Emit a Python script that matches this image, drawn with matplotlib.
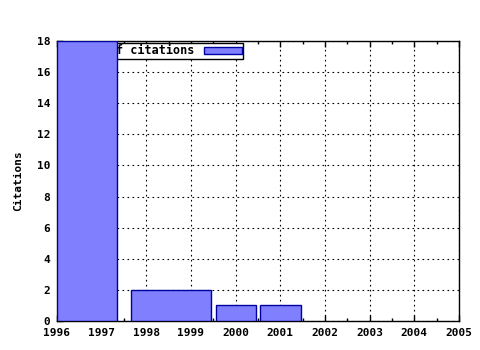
import matplotlib
matplotlib.use("Agg")
import matplotlib.pyplot as plt
from matplotlib.ticker import MultipleLocator

# bar edges (years) and heights
bar_left = [1996.0, 1997.66, 1999.56, 2000.54]
bar_right = [1997.34, 1999.45, 2000.45, 2001.46]
citations = [18, 2, 1, 1]
year_ticks = list(range(1996, 2006))
legend_label = "Number of citations"

plt.rcParams['font.family'] = ['DejaVu Sans Mono']
plt.rcParams['font.weight'] = 'bold'
plt.rcParams['font.size'] = 8

fig = plt.figure(figsize=(4.8, 3.5), dpi=100)
ax = fig.add_axes([57 / 480, 1 - 321 / 350, (459 - 57) / 480, (321 - 41) / 350])

widths = [r - l for l, r in zip(bar_left, bar_right)]
ax.bar(bar_left, citations, width=widths, align='edge', color='#8080ff',
       edgecolor='#0000a0', linewidth=1, zorder=3, label=legend_label)

ax.set_xlim(1996, 2005)
ax.set_ylim(0, 18)
ax.set_xticks(year_ticks)
ax.xaxis.set_minor_locator(MultipleLocator(0.5))
ax.yaxis.set_major_locator(MultipleLocator(2))
ax.tick_params(which='both', direction='in', top=True, right=False, length=4, width=1, pad=5)
ax.tick_params(which='minor', length=2)
ax.grid(True, which='major', color='black', linestyle=(0, (1.5, 3)), linewidth=0.8, zorder=1)
for s in ax.spines.values():
    s.set_linewidth(1)
ax.set_ylabel("Citations", fontweight='bold', labelpad=10)

leg = ax.legend(loc='upper right', bbox_to_anchor=(0.463, 0.992), frameon=True, fancybox=False,
                edgecolor='black', framealpha=1, borderpad=0.1, handlelength=3.2,
                handleheight=0.5, markerfirst=False, handletextpad=0.8, borderaxespad=0,
                prop={'size': 8.5, 'weight': 'bold', 'family': 'DejaVu Sans Mono'})
leg.get_frame().set_linewidth(1)
leg.set_zorder(2)

fig.savefig("out.png", dpi=100)
